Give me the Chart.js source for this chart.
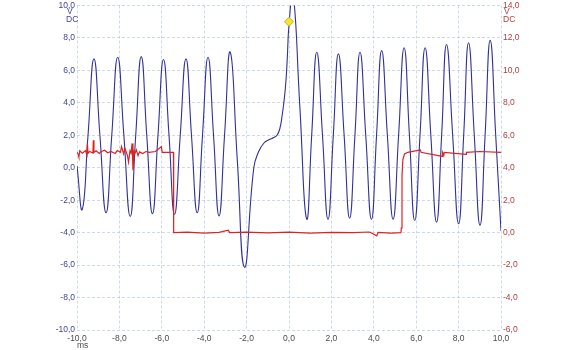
<!DOCTYPE html>
<html><head><meta charset="utf-8">
<script src="https://cdn.jsdelivr.net/npm/chart.js@4/dist/chart.umd.min.js"></script>
<style>html,body{margin:0;padding:0;background:#fff;}#wrap{width:578px;height:350px;position:relative;}</style>
</head><body><div id="wrap"><canvas id="c" width="578" height="350"></canvas></div>
<script>
// ---- data ----
const xTickValues = [-10, -8, -6, -4, -2, 0, 2, 4, 6, 8, 10];
const leftTickValues = [-10, -8, -6, -4, -2, 0, 2, 4, 6, 8, 10];
const rightTickValues = [-6, -4, -2, 0, 2, 4, 6, 8, 10, 12, 14];
const leftUnits = ['V', 'DC'];
const rightUnits = ['V', 'DC'];
const xUnit = 'ms';

// blue channel (left axis, V) : time in ms
const blueTime = [-10.00, -9.75, -9.48, -9.20, -8.92, -8.63, -8.36, -8.08, -7.79, -7.49,
  -7.23, -6.97, -6.71, -6.44, -6.18, -5.92, -5.66, -5.40, -5.13, -4.86,
  -4.60, -4.33, -4.08, -3.82, -3.56, -3.30, -3.04, -2.77, -2.44, -2.10,
  -1.66, -1.43, -1.19, -0.95, -0.72, -0.56, -0.43, -0.32, -0.24, -0.16,
  -0.09, 0.01, 0.19, 0.51, 0.83, 1.07, 1.31, 1.58, 1.84, 2.09,
  2.33, 2.60, 2.86, 3.11, 3.35, 3.62, 3.89, 4.13, 4.37, 4.64,
  4.91, 5.17, 5.43, 5.68, 5.93, 6.18, 6.42, 6.69, 6.96, 7.20,
  7.43, 7.72, 8.00, 8.24, 8.47, 8.74, 9.01, 9.25, 9.49, 9.75, 10.00];
const blueVolt = [0.1, -2.56, 2.0, 6.71, 2.0, -2.77, 2.0, 6.81, 2.0, -3.0,
  2.0, 6.85, 2.0, -2.83, 2.0, 6.67, 2.0, -2.87, 2.0, 6.71,
  2.0, -2.77, 2.0, 6.81, 2.0, -2.97, 2.0, 7.12, 0.5, -6.13,
  0.0, 1.0, 1.51, 1.72, 1.86, 2.02, 2.43, 3.25, 4.06, 5.08,
  6.51, 9.0, 10.8, 3.8, -3.15, 2.0, 7.12, 2.0, -3.18, 2.0,
  7.02, 2.0, -3.11, 2.0, 7.12, 2.0, -3.18, 2.0, 7.22, 2.0,
  -3.18, 2.0, 7.40, 2.0, -3.25, 2.0, 7.40, 2.0, -3.35, 2.0,
  7.60, 2.0, -3.45, 2.0, 7.70, 2.0, -3.55, 2.0, 7.85, 2.0, -3.9];

// red channel (right axis, V) : time in ms
const redTime = [-10.0, -9.95, -9.91, -9.87, -9.75, -9.60, -9.53, -9.51, -9.48, -9.40,
  -9.25, -9.23, -9.20, -9.10, -8.95, -8.85, -8.70, -8.55, -8.40, -8.20,
  -8.10, -7.95, -7.90, -7.80, -7.74, -7.62, -7.57, -7.50, -7.45, -7.40,
  -7.36, -7.30, -7.26, -7.20, -7.12, -7.05, -6.90, -6.75, -6.60, -6.30,
  -6.02, -5.98, -5.45, -5.44, -4.80, -4.00, -3.30, -2.86, -2.80, -2.00,
  -1.00, 0.00, 1.00, 2.00, 3.00, 3.80, 4.14, 4.20, 4.80, 5.28,
  5.30, 5.33, 5.37, 5.45, 5.60, 6.20, 6.23, 7.22, 7.24, 7.30,
  7.32, 8.35, 8.37, 9.00, 10.00];
const redVolt = [4.95, 4.85, 4.65, 5.05, 4.9, 5.05, 4.8, 5.5, 4.9, 5.0,
  4.9, 5.7, 4.95, 5.05, 4.88, 5.0, 5.08, 4.92, 5.0, 4.88,
  5.06, 4.95, 5.3, 4.85, 5.2, 4.75, 4.35, 5.05, 4.9, 5.5,
  3.85, 5.0, 4.9, 5.1, 4.75, 4.98, 4.88, 5.0, 4.95, 5.0,
  5.3, 4.95, 4.95, 0.0, 0.03, -0.03, 0.02, 0.15, 0.0, 0.03,
  -0.02, 0.03, -0.03, 0.02, 0.0, 0.04, -0.2, 0.02, -0.03, 0.0,
  0.3, 3.5, 4.5, 4.85, 4.95, 5.1, 4.95, 4.7, 4.95, 4.75,
  4.95, 4.82, 4.95, 5.0, 4.95];

// marker
const markerTime = [0.0];
const markerVolt = [9.0];

// ---- chart ----
const pts = (xs, ys) => xs.map((x, i) => ({x: x, y: ys[i]}));
const fmt = v => v.toFixed(1).replace('.', ',');
const FONT = 'Liberation Sans, Arial, sans-serif';
const gridColor = 'rgba(170,195,220,0.6)';
const blueText = '#3f3f9a';
const redText = '#b43c3c';
const greyText = '#4a4a4a';

const extraText = {
  id: 'extraText',
  afterDraw(chart) {
    const ctx = chart.ctx, a = chart.chartArea;
    ctx.save();
    ctx.font = '8.5px ' + FONT;
    ctx.textBaseline = 'middle';
    ctx.textAlign = 'left';
    ctx.fillStyle = blueText;
    ctx.fillText(leftUnits[0], a.left - 10, 12);
    ctx.fillText(leftUnits[1], a.left - 11, 20);
    ctx.fillStyle = redText;
    ctx.fillText(rightUnits[0], a.right + 3, 12);
    ctx.fillText(rightUnits[1], a.right + 2, 20);
    ctx.fillStyle = greyText;
    ctx.fillText(xUnit, a.left, 346);
    ctx.restore();
  }
};

function fixW(w) { return s => { s.width = w; s.paddingTop = 0; s.paddingBottom = 0; }; }

new Chart(document.getElementById('c'), {
  type: 'line',
  data: {
    datasets: [
      { data: pts(markerTime, markerVolt), yAxisID: 'y', showLine: false,
        pointStyle: 'rectRot', pointRadius: 4.5, pointBackgroundColor: '#f1e43a',
        pointBorderColor: '#c4b400', pointBorderWidth: 1 },
      { data: pts(redTime, redVolt), yAxisID: 'y2', borderColor: '#dc2222',
        borderWidth: 1.2, pointRadius: 0, tension: 0 },
      { data: pts(blueTime, blueVolt), yAxisID: 'y', borderColor: '#30309c',
        borderWidth: 1.1, pointRadius: 0, tension: 0.5 }
    ]
  },
  options: {
    responsive: false, animation: false, devicePixelRatio: 1,
    layout: { padding: { top: 3, left: 0, right: 0, bottom: 0 } },
    plugins: { legend: { display: false }, tooltip: { enabled: false } },
    scales: {
      x: { type: 'linear', min: -10, max: 10,
        afterBuildTicks: s => { s.ticks = xTickValues.map(v => ({value: v})); },
        ticks: { callback: v => fmt(v), color: greyText, font: { family: FONT, size: 8.5 },
          padding: 4, maxRotation: 0, autoSkip: false },
        grid: { color: gridColor, drawTicks: false, lineWidth: 1 },
        border: { display: false, dash: [3, 2] },
        afterFit: s => { s.height = 20; s.paddingLeft = 0; s.paddingRight = 0; } },
      y: { position: 'left', min: -10, max: 10,
        afterBuildTicks: s => { s.ticks = leftTickValues.map(v => ({value: v})); },
        ticks: { callback: v => fmt(v), color: blueText, font: { family: FONT, size: 8.5 },
          padding: 2, autoSkip: false },
        grid: { color: gridColor, drawTicks: false, lineWidth: 1 },
        border: { display: false, dash: [3, 2] },
        afterFit: fixW(77) },
      y2: { position: 'right', min: -6, max: 14,
        afterBuildTicks: s => { s.ticks = rightTickValues.map(v => ({value: v})); },
        ticks: { callback: v => fmt(v), color: redText, font: { family: FONT, size: 8.5 },
          padding: 2, autoSkip: false },
        grid: { display: false, drawTicks: false },
        border: { display: false },
        afterFit: fixW(77) }
    }
  },
  plugins: [extraText]
});
</script></body></html>
